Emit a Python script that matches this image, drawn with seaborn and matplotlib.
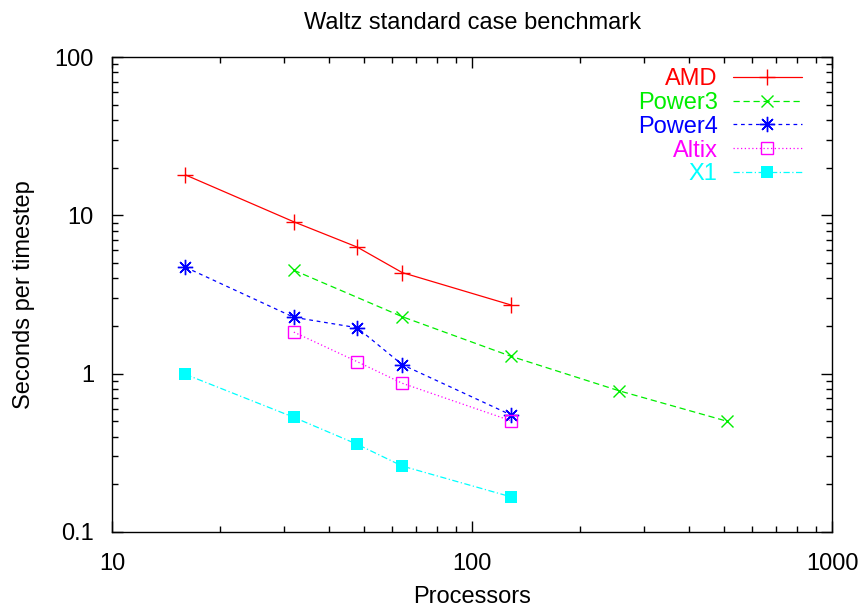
import numpy as np
import pandas as pd
import matplotlib
matplotlib.use('Agg')
import matplotlib.pyplot as plt
import seaborn as sns

# dados
amd_procs = [16, 32, 48, 64, 128]
amd_secs = [18.0, 9.1, 6.3, 4.35, 2.72]

power3_procs = [32, 64, 128, 256, 512]
power3_secs = [4.5, 2.29, 1.29, 0.78, 0.50]

power4_procs = [16, 32, 48, 64, 128]
power4_secs = [4.7, 2.27, 1.95, 1.14, 0.55]

altix_procs = [32, 48, 64, 128]
altix_secs = [1.83, 1.19, 0.87, 0.505]

x1_procs = [16, 32, 48, 64, 128]
x1_secs = [0.99, 0.53, 0.358, 0.261, 0.167]

xticks = [10, 100, 1000]
xtick_labels = ['10', '100', '1000']
yticks = [0.1, 1, 10, 100]
ytick_labels = ['0.1', '1', '10', '100']

sns.set_style('ticks')
plt.rcParams['font.family'] = ['Liberation Sans', 'DejaVu Sans']
plt.rcParams['text.color'] = 'black'
plt.rcParams['axes.labelcolor'] = 'black'
plt.rcParams['xtick.color'] = 'black'
plt.rcParams['ytick.color'] = 'black'

fs = 17

fig = plt.figure(figsize=(8.64, 6.11), dpi=100)
ax = fig.add_axes([0.1296, 0.1293, 0.8334, 0.7774])

# estilos de cada serie
series = [
    ('AMD', amd_procs, amd_secs, '#ff0000', '+', '-', dict(markersize=11, markeredgewidth=1.0)),
    ('Power3', power3_procs, power3_secs, '#00ee00', 'x', (0, (5, 3)), dict(markersize=9, markeredgewidth=1.0)),
    ('Power4', power4_procs, power4_secs, '#0000ff', (8, 2, 0), (0, (3, 3)), dict(markersize=11, markeredgewidth=1.0)),
    ('Altix', altix_procs, altix_secs, '#ff00ff', 's', (0, (1, 2)), dict(markersize=8, markeredgewidth=1.0, markerfacecolor='none')),
    ('X1', x1_procs, x1_secs, '#00ffff', 's', (0, (5, 2, 1, 2)), dict(markersize=8, markeredgewidth=0)),
]

for name, xs, ys, col, mk, ls, extra in series:
    df = pd.DataFrame({'Processors': xs, 'Seconds': ys})
    sns.lineplot(data=df, x='Processors', y='Seconds', ax=ax, color=col,
                 marker=mk, linestyle=ls, linewidth=0.9, label=name,
                 markeredgecolor=col, **extra)

ax.set_xscale('log')
ax.set_yscale('log')
ax.set_xlim(10, 1000)
ax.set_ylim(0.1, 100)
ax.set_xticks(xticks)
ax.set_xticklabels(xtick_labels)
ax.set_yticks(yticks)
ax.set_yticklabels(ytick_labels)

ax.tick_params(which='both', direction='in', top=True, right=True, labelsize=fs)
ax.tick_params(axis='x', which='both', pad=15)
ax.tick_params(axis='y', which='both', pad=13)
ax.tick_params(which='major', length=8, width=1)
ax.tick_params(which='minor', length=4, width=1)
for s in ax.spines.values():
    s.set_linewidth(1)
    s.set_color('black')

ax.set_xlabel('Processors', fontsize=fs, labelpad=8)
ax.set_ylabel('Seconds per timestep', fontsize=fs, labelpad=14)
ax.set_title('Waltz standard case benchmark', fontsize=fs, pad=20)

leg = ax.legend(loc='upper right', bbox_to_anchor=(0.958, 0.977), frameon=False,
                markerfirst=False, fontsize=fs, handlelength=2.92,
                labelspacing=0.08, handletextpad=0.64, borderpad=0, borderaxespad=0)
for t, (name, xs, ys, col, mk, ls, extra) in zip(leg.get_texts(), series):
    t.set_color(col)

fig.savefig('out.png', dpi=100)
